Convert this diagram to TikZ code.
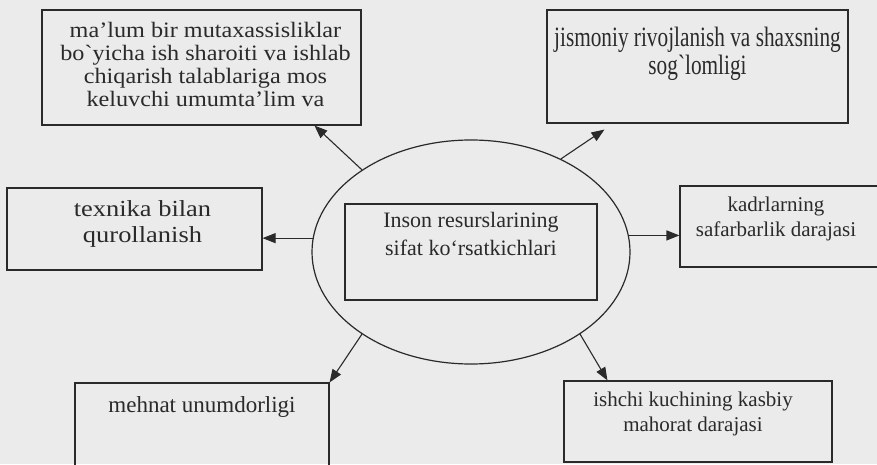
\documentclass[tikz,border=0pt]{standalone}
\usepackage{fontspec}
\setmainfont{Liberation Serif}
\newfontfamily\condfont[FakeStretch=0.76]{Liberation Serif}
\newfontfamily\widefont[FakeStretch=1.15]{Liberation Serif}
\newfontfamily\broadfont[FakeStretch=1.1]{Liberation Serif}
\usetikzlibrary{shapes.geometric,arrows.meta}
\definecolor{paper}{HTML}{EBEBEB}
\definecolor{ink}{HTML}{2A2A2A}

\begin{document}
\begin{tikzpicture}[x=1pt,y=1pt]
        \tikzstyle{box_style} = [draw=ink, line width=1.1pt, rectangle, inner sep=0pt]
        \tikzstyle{text_style} = [anchor=base, align=center, text=ink, inner sep=0pt]
        \tikzstyle{arrow_style} = [->, draw=ink, line width=1.1pt, >={Triangle[length=13pt,width=10pt]}]

        \fill[paper] (0,0) rectangle (877,464);
        \useasboundingbox (0,0) rectangle (877,464);

        % The ellipse with the title box in the middle
        % (text nodes sit on the baseline of their last line)
        \node[ellipse, draw=ink, line width=1.2pt, minimum width=318pt, minimum height=224pt, inner sep=0pt] (ell) at (471,212) {};
        \node[box_style, minimum width=252pt, minimum height=96pt] (b4) at (471,212) {};
        \node[text_style, font=\fontsize{22}{28.5}\selectfont] (t4) at ([yshift=-52.5pt]b4.north) {Inson resurslarining\\sifat ko`rsatkichlari};

        % Then the two boxes at the top
        \node[box_style, minimum width=319pt, minimum height=115pt] (b1) at (201.5,396.5) {};
        \node[text_style, font=\broadfont\fontsize{22}{23}\selectfont] (t1) at ([xshift=4pt,yshift=-97pt]b1.north) {ma’lum bir mutaxassisliklar\\bo`yicha ish sharoiti va ishlab\\chiqarish talablariga mos\\keluvchi umumta’lim va};
        \node[box_style, minimum width=301pt, minimum height=113pt] (b2) at (697.5,397.5) {};
        \node[text_style, font=\condfont\fontsize{28}{28}\selectfont] (t2) at ([yshift=-64.7pt]b2.north) {jismoniy rivojlanish va shaxsning\\sog`lomligi};

        % Left and right
        \node[box_style, minimum width=255pt, minimum height=82pt] (b3) at (134.5,235) {};
        \node[text_style, font=\widefont\fontsize{23}{26}\selectfont] (t3) at ([xshift=8pt,yshift=-54.7pt]b3.north) {texnika bilan\\qurollanish};
        \node[box_style, minimum width=200pt, minimum height=81pt] (b5) at (780,237.5) {};
        \node[text_style, font=\fontsize{21}{25}\selectfont] (t5) at ([xshift=-4pt,yshift=-51pt]b5.north) {kadrlarning\\safarbarlik darajasi};

        % Then the bottom
        \node[box_style, minimum width=254pt, minimum height=87pt] (b6) at (202,37.5) {};
        \node[text_style, font=\fontsize{23}{27}\selectfont] (t6) at ([yshift=-30pt]b6.north) {mehnat unumdorligi};
        \node[box_style, minimum width=268pt, minimum height=81pt] (b7) at (698,42.5) {};
        \node[text_style, font=\fontsize{21}{25}\selectfont] (t7) at ([xshift=-5pt,yshift=-51pt]b7.north) {ishchi kuchining kasbiy\\mahorat darajasi};

        \draw[arrow_style] (ell.143) -- ([xshift=273pt]b1.south west);
        \draw[arrow_style] (ell.46) -- ([xshift=58pt,yshift=-6pt]b2.south west);
        \draw[arrow_style] (ell.175) -- (ell.175 -| b3.east);
        \draw[arrow_style] (ell.6) -- (ell.6 -| b5.west);
        \draw[arrow_style] (ell.217) -- (b6.north east);
        \draw[arrow_style] (ell.323) -- ([xshift=44pt]b7.north west);
    \end{tikzpicture}
\end{document}
